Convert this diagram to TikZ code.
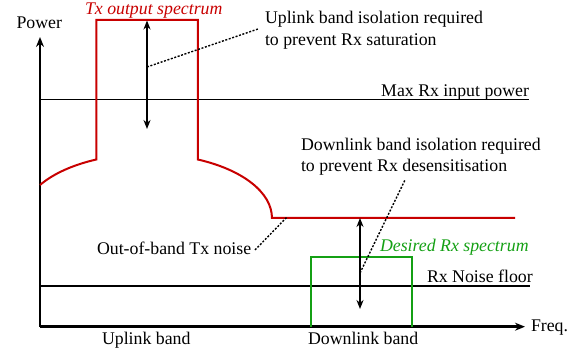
\documentclass[tikz,border=0pt]{standalone}
\usepackage{fontspec}
\setmainfont{Liberation Serif}
\usetikzlibrary{arrows.meta}
\definecolor{txred}{RGB}{200,0,0}
\definecolor{rxgreen}{RGB}{20,160,20}
\tikzset{
  every node/.style={font=\fontsize{17.8}{21}\selectfont, inner sep=0pt, outer sep=0pt},
  axisline/.style={line width=2.4pt, -{Stealth[length=10pt,width=8pt]}},
  levelline/.style={line width=1.4pt},
  txline/.style={line width=2pt, draw=txred},
  rxline/.style={line width=2pt, draw=rxgreen},
  dblarrow/.style={line width=1.5pt, {Stealth[length=9pt,width=7pt]}-{Stealth[length=9pt,width=7pt]}},
  dotline/.style={line width=1.4pt, dash pattern=on 2pt off 1.6pt},
  lbl/.style={anchor=base west},
}
\begin{document}
\begin{tikzpicture}[x=1pt,y=-1pt]
\useasboundingbox (0,0) rectangle (579,352);
% axes
\coordinate (O) at (40,326.7);
\coordinate (ytop) at (40,37);
\coordinate (xend) at (525,326.7);
\draw[axisline] (O) -- (ytop);
\draw[axisline] (O) -- (xend);
% level lines
\coordinate (maxL) at (40,99.3);
\coordinate (maxR) at (529,99.3);
\coordinate (nfL) at (40,286);
\coordinate (nfR) at (530,286);
\draw[levelline] (maxL) -- (maxR);
\draw[levelline] (nfL) -- (nfR);
% Tx spectrum
\draw[txline] (40,185) arc[start angle=211,end angle=246,x radius=125,y radius=64]
  |- (147,20) -| (197.8,159.5)
  arc[start angle=294,end angle=360,x radius=125,y radius=64] -- (515,218);
% Rx spectrum
\draw[rxline] (311,326.7) |- (412,256.7) -- (412,326.7);
% isolation arrows
\coordinate (upT) at (147,20.5);
\coordinate (upB) at (147,129);
\coordinate (dnT) at (360,218);
\coordinate (dnB) at (360,309);
\draw[dblarrow] (upT) -- (upB);
\draw[dblarrow] (dnT) -- (dnB);
% labels
\node[lbl] (power) at (16.5,28.3) {Power};
\node[lbl, text=txred] (txlbl) at (85,14.5) {\itshape Tx output spectrum};
\node[lbl] (ul1) at (265,24) {Uplink band isolation required};
\node[lbl] (ul2) at (265,46) {to prevent Rx saturation};
\node[anchor=base east] (maxlbl) at (529,97) {Max Rx input power};
\node[lbl] (dl1) at (301,150.5) {Downlink band isolation required};
\node[lbl] (dl2) at (301,172) {to prevent Rx desensitisation};
\node[lbl] (oob) at (97,255) {Out-of-band Tx noise};
\node[lbl, text=rxgreen] (rxlbl) at (380,252) {\itshape Desired Rx spectrum};
\node[lbl] (nflbl) at (427,283) {Rx Noise floor};
\node[lbl] (ulband) at (102,345) {Uplink band};
\node[lbl] (dlband) at (308,345) {Downlink band};
\node[lbl] (freq) at (531,332) {Freq.};
% dotted leaders
\coordinate (ulp) at (147,67);
\coordinate (ulq) at (258,29);
\coordinate (dlp) at (360,273);
\coordinate (dlq) at (405,180);
\coordinate (oobp) at (255,250);
\coordinate (oobq) at (287,217);
\draw[dotline] (ulp) -- (ulq);
\draw[dotline] (dlp) -- (dlq);
\draw[dotline] (oobp) -- (oobq);
\end{tikzpicture}
\end{document}
